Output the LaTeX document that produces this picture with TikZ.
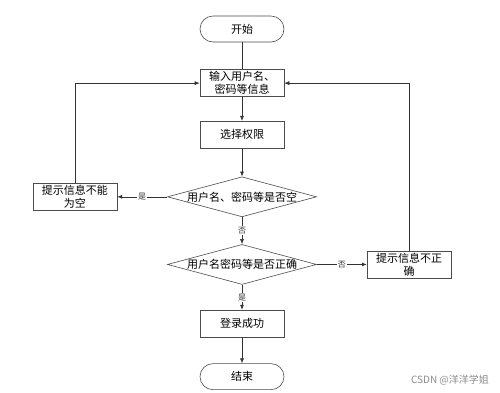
\documentclass[tikz,border=0pt]{standalone}
\usepackage{fontspec}
\newfontfamily\cjk{Noto Sans CJK SC}
\usepackage{tikz}
\usetikzlibrary{arrows.meta,positioning,shapes}

\begin{document}
\begin{tikzpicture}[->,>={Latex[length=5pt,width=4pt]},line width=0.6pt,font=\cjk\fontsize{11}{13}\selectfont,node distance=26pt]
        \tikzstyle{term} = [rectangle, rounded corners=13pt, draw=black!70, minimum width=84pt, minimum height=26pt, text centered]
        \tikzstyle{proc} = [rectangle, draw=black!70, minimum width=84pt, minimum height=27pt, inner sep=1pt, align=center]
        \tikzstyle{cond} = [diamond, draw=black!70, shape aspect=3.7, minimum width=149pt, minimum height=40pt, inner sep=0pt]
        \tikzstyle{lbl} = [fill=white, inner sep=1pt, font=\cjk\fontsize{8}{9}\selectfont, text=black!80]
        \tikzset{every edge/.append style={draw=black!80}}

        \useasboundingbox (0pt,0pt) rectangle (500pt,-392pt);

        % Nodes
        \node[term] (start) at (242pt,-29pt) {开始};
        \node[proc, below=27pt of start] (input) {输入用户名、\\密码等信息};
        \node[proc, below=24pt of input] (role) {选择权限};
        \node[cond, below=28pt of role] (empty) {用户名、密码等是否空};
        \node[proc, left=50pt of empty] (warn1) {提示信息不能\\为空};
        \node[cond, below=27pt of empty] (check) {用户名密码等是否正确};
        \node[proc, right=50pt of check] (warn2) {提示信息不正\\确};
        \node[proc, below=25pt of check] (ok) {登录成功};
        \node[term, below=26pt of ok] (stop) {结束};
        \node[text=black!45, font=\cjk\fontsize{10}{12}\selectfont] (mark) at (450pt,-380pt) {CSDN @洋洋学姐};

        % Edges
        \path (start) edge[-] (input);
        \path (input) edge (role);
        \path (role) edge (empty);
        \path (empty) edge node[lbl] {是} (warn1);
        \path (empty) edge node[lbl] {否} (check);
        \path (check) edge node[lbl] {否} (warn2);
        \path (check) edge node[lbl] {是} (ok);
        \path (ok) edge (stop);
        \draw[black!80] (warn1.north) |- (input.west);
        \draw[black!80] (warn2.north) |- (input.east);
    \end{tikzpicture}
\end{document}
